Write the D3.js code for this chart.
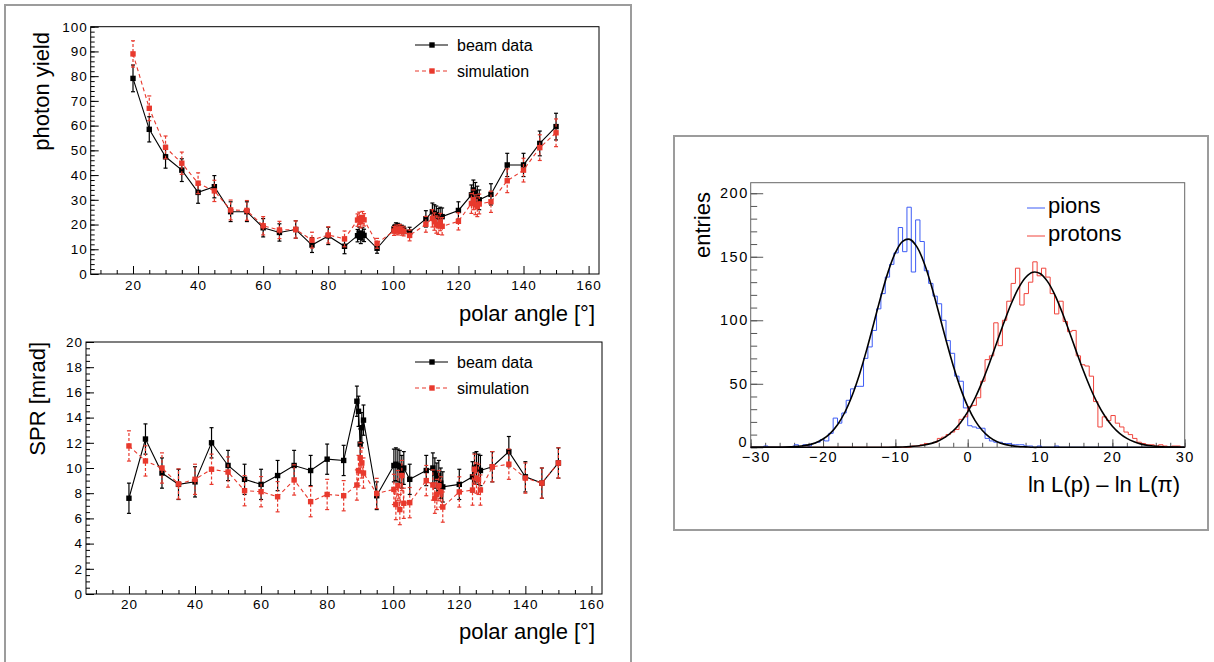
<!DOCTYPE html>
<html><head><meta charset="utf-8">
<script src="https://cdn.jsdelivr.net/npm/d3@7/dist/d3.min.js"></script>
<style>
html,body{margin:0;padding:0;background:#fff;}
svg{display:block;}
</style></head>
<body><svg id="chart" width="1214" height="662"></svg>
<script>
// ================= DATA =================
// polar angles (deg) of the measurements
const angles = [20,25,30,35,40,45,50,55,60,65,70,75,80,85,
  89,89.5,90,90.5,91, 95, 100.2,100.8,101.4,102,102.6,103.2, 105, 110,
  112,112.6,113.2,113.8,114.4,115, 120, 124,124.6,125.2,125.8,126.4,
  130,135,140,145,150];

// photon yield
const yieldBeam = [79.1,58.5,47.4,42.0,33.0,35.3,25.2,25.2,18.7,16.8,18.0,11.7,15.4,11.2,
  15.5,16.5,14.8,16.2,15.6, 10.4, 18.2,19.2,19.0,18.6,18.2,17.8, 16.9, 22.3,
  25.2,24.5,24.0,23.0,23.5,23.2, 25.7, 32.0,34.0,33.0,31.5,30.0,
  32.2,44.1,44.1,52.8,59.6];
const yieldBeamErr = [5.4,5.1,4.6,4.6,4.4,4.5,4.0,4.0,3.7,3.5,3.5,3.0,3.5,3.0,
  2.5,2.5,2.5,2.5,2.5, 2.0, 1.5,1.5,1.5,1.5,1.5,1.5, 2.0, 3.3,
  3.5,3.5,3.5,3.5,3.5,3.5, 3.5, 4.0,4.0,4.0,4.0,4.0,
  4.3,4.7,4.7,5.0,5.4];
const yieldSim = [89.0,67.0,51.2,44.8,36.7,33.6,25.9,25.7,19.5,17.8,18.0,13.7,15.8,14.2,
  21.8,22.5,21.2,22.8,21.9, 12.4, 17.4,18.0,17.6,18.2,17.5,17.2, 15.6, 20.1,
  22.5,21.2,20.0,19.5,21.0,19.3, 21.3, 28.5,30.0,28.0,27.2,28.3,
  29.2,37.7,42.0,51.1,57.1];
const yieldSimErr = [5.3,5.0,4.6,4.5,4.2,4.3,4.0,4.0,3.7,3.5,3.5,3.2,3.3,3.2,
  2.5,2.5,2.5,2.5,2.5, 2.0, 1.8,1.8,1.8,1.8,1.8,1.8, 2.2, 3.2,
  3.5,3.5,3.5,3.5,3.5,3.5, 3.5, 4.0,4.0,4.0,4.0,4.0,
  4.3,4.8,4.8,5.2,5.6];

// single photon resolution (mrad)
const sprBeam = [7.6,12.3,9.6,8.7,8.9,12.0,10.2,9.1,8.7,9.4,10.2,9.8,10.7,10.6,
  15.3,14.5,11.9,13.2,13.8, 7.8, 10.2,10.3,10.2,10.1,9.7,10.0, 9.1, 9.8,
  10.0,9.6,9.2,9.4,8.8,8.5, 8.7, 9.3,10.0,10.1,9.9,9.8,
  10.1,11.3,9.3,8.8,10.4];
const sprBeamErr = [1.2,1.2,1.2,1.2,1.2,1.2,1.2,1.2,1.2,1.2,1.2,1.2,1.2,1.2,
  1.2,1.2,1.2,1.2,1.2, 1.1, 1.3,1.3,1.3,1.3,1.3,1.3, 1.2, 1.2,
  1.2,1.2,1.2,1.2,1.2,1.2, 1.2, 1.2,1.2,1.2,1.2,1.2,
  1.2,1.2,1.2,1.2,1.2];
const sprSim = [11.75,10.56,10.0,8.73,9.1,9.9,9.68,8.2,8.12,7.72,9.05,7.33,7.9,7.8,
  8.65,9.8,10.8,10.4,9.6, 7.98, 8.3,7.1,8.6,6.7,9.4,7.2, 7.25, 9.0,
  8.65,7.6,7.9,8.6,8.1,6.9, 8.1, 8.25,9.9,9.2,9.1,8.25,
  10.1,10.3,9.2,8.8,10.4];
const sprSimErr = [1.2,1.2,1.2,1.2,1.2,1.2,1.2,1.2,1.2,1.2,1.2,1.2,1.2,1.2,
  1.2,1.2,1.2,1.2,1.2, 1.2, 1.2,1.2,1.2,1.2,1.2,1.2, 1.2, 1.2,
  1.2,1.2,1.2,1.2,1.2,1.2, 1.2, 1.2,1.2,1.2,1.2,1.2,
  1.2,1.2,1.2,1.2,1.2];

// likelihood-difference histograms: 100 bins of width 0.6 from -30 to 30
const histLow = -30, binWidth = 0.6;
const pionCounts = [0,0,0,1,0,0,0,0,0,0, 2,0,2,1,3,4,6,5,11,23,
  19,27,37,46,48,48,70,79,92,109, 121,134,144,153,173,154,189,138,179,162,
  139,129,119,113,100,84,74,56,52,31, 17,16,15,15,7,5,4,4,3,3,
  2,2,2,1,1,0,1,0,0,0, 1,0,0,0,0,0,0,0,0,0,
  0,0,0,0,0,0,0,0,0,0, 0,0,0,0,0,0,0,0,0,0];
const protonCounts = [0,0,0,0,0,0,0,0,0,0, 0,0,0,0,0,0,0,0,0,0,
  0,0,0,0,0,0,0,0,0,0, 0,0,0,0,0,0,0,1,1,2,
  3,3,4,7,8,10,12,14,22,24, 32,33,39,52,69,72,98,80,100,115,
  129,141,112,121,130,146,135,141,134,121, 105,115,99,91,92,72,65,64,56,36,
  16,24,21,25,19,16,12,10,7,4, 3,2,2,1,2,1,0,1,1,0];

// gaussian fits, read at integer abscissae
const fitX = [-30,-29,-28,-27,-26,-25,-24,-23,-22,-21,-20,-19,-18,-17,-16,-15,-14,-13,-12,-11,
  -10,-9,-8,-7,-6,-5,-4,-3,-2,-1,0,1,2,3,4,5,6,7,8,9,
  10,11,12,13,14,15,16,17,18,19,20,21,22,23,24,25,26,27,28,29,30];
const pionFit = [0,0,0,0,0,0.2,0.5,1.0,1.9,3.6,6.5,11.0,17.8,27.4,40.4,56.8,76.1,97.3,118.7,138.1,
  153.2,162.1,163.7,157.6,144.7,126.8,105.9,84.4,64.2,46.6,32.2,21.2,13.4,8.0,4.6,2.5,1.3,0.6,0.3,0,
  0,0,0,0,0,0,0,0,0,0,0,0,0,0,0,0,0,0,0,0,0];
const protonFit = [0,0,0,0,0,0,0,0,0,0,0,0,0,0,0,0,0,0,0,0,
  0.1,0.2,0.5,1.0,1.8,3.1,5.2,8.4,13.0,19.4,27.9,38.6,51.5,66.2,82.1,98.0,112.8,125.1,133.7,137.8,
  136.8,130.8,120.6,107.1,91.7,75.7,60.2,46.1,34.0,24.2,16.6,11.0,7.0,4.3,2.5,1.4,0.8,0.4,0.2,0.1,0];

// tick values / labels
const angleMajor = [20,40,60,80,100,120,140,160];
const angleMinor = [10,15,25,30,35,45,50,55,65,70,75,85,90,95,105,110,115,125,130,135,145,150,155];
const yieldMajor = [0,10,20,30,40,50,60,70,80,90,100];
const sprMajor = [0,2,4,6,8,10,12,14,16,18,20];
const llMajor = [-30,-20,-10,0,10,20,30];
const entriesMajor = [0,50,100,150,200];
const seriesNames = ["beam data","simulation"];
const histNames = ["pions","protons"];

// ================= DRAWING =================
const FONT = '"Liberation Sans", Arial, Helvetica, sans-serif';
const RED = "#e8392d", BLUE = "#3d5cf5", HRED = "#f0443c";
const svg = d3.select("#chart");
svg.append("rect").attr("width",1214).attr("height",662).attr("fill","#fff");

// panel borders
svg.append("rect").attr("x",5).attr("y",5).attr("width",626).attr("height",700)
  .attr("fill","none").attr("stroke","#9c9c9c").attr("stroke-width",2);
svg.append("rect").attr("x",674).attr("y",136).attr("width",534).attr("height",394)
  .attr("fill","none").attr("stroke","#9c9c9c").attr("stroke-width",2);

function styleAxis(s, size, ls){
  s.attr("font-family", FONT).attr("font-size", size);
  s.select(".domain").remove();
  s.selectAll("line").attr("stroke","#000");
  s.selectAll("text").attr("fill","#000").style("letter-spacing", ls + "px");
}

function minorRange(a, b, step){ return d3.range(a, b + 1e-9, step); }

function drawSeries(g, x, y, vals, errs, color, dash){
  const pts = angles.map((a,i)=>({a, v: vals[i], e: errs[i]}));
  g.append("path").datum(pts)
    .attr("d", d3.line().x(d=>x(d.a)).y(d=>y(d.v)))
    .attr("fill","none").attr("stroke",color).attr("stroke-width",1.1)
    .attr("stroke-dasharray", dash);
  const eb = g.append("g").attr("stroke",color).attr("stroke-width",1.2);
  eb.selectAll("line.v").data(pts).join("line").attr("class","v")
    .attr("x1",d=>x(d.a)).attr("x2",d=>x(d.a))
    .attr("y1",d=>y(d.v-d.e)).attr("y2",d=>y(d.v+d.e))
    .attr("stroke-dasharray", dash ? "3,2" : null);
  ["lo","hi"].forEach(k=>{
    eb.selectAll("line."+k).data(pts).join("line").attr("class",k)
      .attr("x1",d=>x(d.a)-2).attr("x2",d=>x(d.a)+2)
      .attr("y1",d=>y(k==="lo"?d.v-d.e:d.v+d.e)).attr("y2",d=>y(k==="lo"?d.v-d.e:d.v+d.e));
  });
  g.append("g").attr("fill",color).selectAll("rect").data(pts).join("rect")
    .attr("x",d=>x(d.a)-2.7).attr("y",d=>y(d.v)-2.7).attr("width",5.4).attr("height",5.4);
}

function anglePanel(o){
  const x = d3.scaleLinear().domain([7,163.2]).range([o.x0,o.x1]);
  const y = d3.scaleLinear().domain(o.yDomain).range([o.y1,o.y0]);
  const g = svg.append("g");
  g.append("g").attr("transform",`translate(0,${o.y1})`)
    .call(d3.axisBottom(x).tickValues(angleMinor).tickSizeInner(-4).tickSizeOuter(0).tickFormat(""))
    .call(s=>styleAxis(s,13.5,1));
  g.append("g").attr("transform",`translate(0,${o.y1})`)
    .call(d3.axisBottom(x).tickValues(angleMajor).tickSizeInner(-8).tickSizeOuter(0).tickPadding(o.xpad))
    .call(s=>styleAxis(s,13.5,1));
  g.append("g").attr("transform",`translate(${o.x0},0)`)
    .call(d3.axisLeft(y).tickValues(o.yMinor).tickSizeInner(-4).tickSizeOuter(0).tickFormat(""))
    .call(s=>styleAxis(s,13.5,1));
  g.append("g").attr("transform",`translate(${o.x0},0)`)
    .call(d3.axisLeft(y).tickValues(o.yMajor).tickSizeInner(-8).tickSizeOuter(0).tickPadding(3))
    .call(s=>styleAxis(s,13.5,1));
  g.append("rect").attr("x",o.x0).attr("y",o.y0).attr("width",o.x1-o.x0).attr("height",o.y1-o.y0)
    .attr("fill","none").attr("stroke","#000").attr("stroke-width",1);

  drawSeries(g, x, y, o.beam, o.beamErr, "#000", null);
  drawSeries(g, x, y, o.sim, o.simErr, RED, "4,3");

  // legend
  const lg = g.append("g");
  [[seriesNames[0],"#000",null,o.legY],[seriesNames[1],RED,"4,3",o.legY+26]].forEach(([t,c,d,ly])=>{
    lg.append("line").attr("x1",415).attr("x2",448).attr("y1",ly).attr("y2",ly)
      .attr("stroke",c).attr("stroke-width",1.1).attr("stroke-dasharray",d);
    lg.append("rect").attr("x",432-2.7).attr("y",ly-2.7).attr("width",5.4).attr("height",5.4).attr("fill",c);
    lg.append("text").attr("x",457).attr("y",ly+6).text(t)
      .attr("font-family",FONT).attr("font-size",16).attr("fill","#000");
  });

  g.append("text").attr("x",595).attr("y",o.xTitleY).attr("text-anchor","end")
    .attr("font-family",FONT).attr("font-size",22).attr("fill","#000").text("polar angle [°]");
  g.append("text").attr("transform",`translate(${o.yTitleX},${o.yTitleTop}) rotate(-90)`)
    .attr("text-anchor","end").attr("font-family",FONT).attr("font-size",22).attr("fill","#000").text(o.yTitle);
}

anglePanel({x0:90.7,x1:599,y0:26.7,y1:274,yDomain:[0,100],
  yMajor:yieldMajor, yMinor:minorRange(0,100,2), xpad:6,
  beam:yieldBeam, beamErr:yieldBeamErr, sim:yieldSim, simErr:yieldSimErr,
  legY:45, xTitleY:320.5, yTitleX:48.5, yTitleTop:32, yTitle:"photon yield"});

anglePanel({x0:86,x1:602,y0:342,y1:594,yDomain:[0,20],
  yMajor:sprMajor, yMinor:minorRange(0,20,0.5), xpad:5,
  beam:sprBeam, beamErr:sprBeamErr, sim:sprSim, simErr:sprSimErr,
  legY:362, xTitleY:639, yTitleX:45, yTitleTop:342, yTitle:"SPR [mrad]"});

// ---------- right panel ----------
(function(){
  const x = d3.scaleLinear().domain([-30,30]).range([750.7,1184.7]);
  const y = d3.scaleLinear().domain([0,208.3]).range([447.3,182.7]);
  const g = svg.append("g");
  g.append("g").attr("transform","translate(0,447.3)")
    .call(d3.axisBottom(x).tickValues(minorRange(-30,30,2)).tickSizeInner(-4.5).tickSizeOuter(0).tickFormat(""))
    .call(s=>styleAxis(s,14.5,1.5));
  const xa = g.append("g").attr("transform","translate(0,447.3)")
    .call(d3.axisBottom(x).tickValues(llMajor).tickSizeInner(-8).tickSizeOuter(0).tickPadding(4)
      .tickFormat(d=> d<0 ? "\u2212"+Math.abs(d) : String(d)))
    .call(s=>styleAxis(s,14.5,1.5));
  // first label sits just right of the corner, as in the original
  xa.selectAll(".tick").filter(d=>d===-30).select("text").attr("dx",5);
  g.append("g").attr("transform","translate(750.7,0)")
    .call(d3.axisLeft(y).tickValues(minorRange(0,200,10)).tickSizeInner(-6.5).tickSizeOuter(0).tickFormat(""))
    .call(s=>styleAxis(s,14.5,1.5));
  const ya = g.append("g").attr("transform","translate(750.7,0)")
    .call(d3.axisLeft(y).tickValues(entriesMajor).tickSizeInner(-12.5).tickSizeOuter(0).tickPadding(2))
    .call(s=>styleAxis(s,14.5,1.5));
  ya.selectAll(".tick").filter(d=>d===0).select("text")
    .attr("dy","-0.05em").attr("dx",-2).style("letter-spacing","0px");
  g.selectAll("line").attr("stroke","#555");
  g.append("rect").attr("x",750.7).attr("y",182.7).attr("width",434).attr("height",264.6)
    .attr("fill","none").attr("stroke","#666").attr("stroke-width",1);

  function histPath(counts){
    const pts = counts.map((c,i)=>[histLow + i*binWidth, c]);
    pts.push([histLow + counts.length*binWidth, counts[counts.length-1]]);
    return d3.line().x(d=>x(d[0])).y(d=>y(d[1])).curve(d3.curveStepAfter)(pts);
  }
  g.append("path").attr("d",histPath(pionCounts)).attr("fill","none").attr("stroke",BLUE).attr("stroke-width",1);
  g.append("path").attr("d",histPath(protonCounts)).attr("fill","none").attr("stroke",HRED).attr("stroke-width",1);

  const fitLine = d3.line().x(d=>x(d[0])).y(d=>y(d[1])).curve(d3.curveCatmullRom);
  [pionFit, protonFit].forEach(f=>{
    g.append("path").attr("d",fitLine(fitX.map((v,i)=>[v,f[i]])))
      .attr("fill","none").attr("stroke","#000").attr("stroke-width",1.6);
  });

  // legend
  [[histNames[0],BLUE,208],[histNames[1],HRED,236]].forEach(([t,c,ly])=>{
    g.append("line").attr("x1",1027).attr("x2",1045).attr("y1",ly).attr("y2",ly).attr("stroke",c).attr("stroke-width",1);
    g.append("text").attr("x",1048).attr("y",ly+5).text(t)
      .attr("font-family",FONT).attr("font-size",22).attr("fill","#000");
  });

  g.append("text").attr("x",1180).attr("y",492).attr("text-anchor","end")
    .attr("font-family",FONT).attr("font-size",22).attr("fill","#000").text("ln L(p) \u2013 ln L(\u03c0)");
  g.append("text").attr("transform","translate(710,192) rotate(-90)").attr("text-anchor","end")
    .attr("font-family",FONT).attr("font-size",22).attr("fill","#000").text("entries");
})();
</script>
</body></html>
